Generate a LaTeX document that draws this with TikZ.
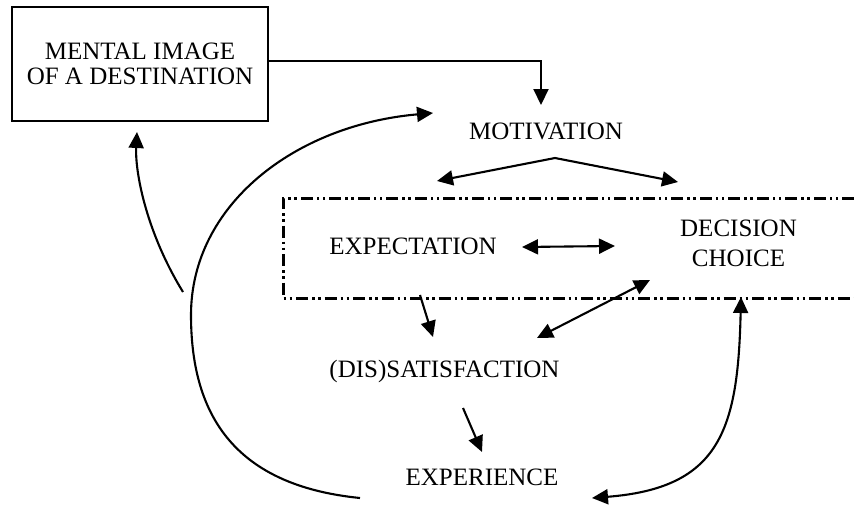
\documentclass[tikz,border=0pt]{standalone}
\usepackage{fontspec}
\setmainfont{Liberation Serif}
\usetikzlibrary{arrows.meta,positioning}
\tikzset{
    every node/.style={font=\fontsize{25}{30}\selectfont},
    concept/.style={inner sep=2pt,align=center},
    imagebox/.style={draw,line width=2pt,minimum width=256pt,minimum height=114pt,align=center,
        font=\fontsize{25}{25}\selectfont},
    flow/.style={line width=2.1pt,-{Triangle[length=16pt,width=15pt]}},
    twoway/.style={line width=2.1pt,{Triangle[length=16pt,width=15pt]}-{Triangle[length=16pt,width=15pt]}},
    frame/.style={line width=3pt,dash pattern=on 12pt off 4pt on 2.5pt off 3.5pt on 2.5pt off 4pt}
}
\begin{document}
\begin{tikzpicture}[x=1pt,y=-1pt]
    \useasboundingbox (0,0) rectangle (854,506);
    \node[imagebox] (img) at (140,64) {MENTAL IMAGE\\OF A DESTINATION};
    \node[concept] (mot) at (546,131.5) {MOTIVATION};
    \node[concept] (expect) at (413,246.5) {EXPECTATION};
    \node[concept] (dec) at (738.5,243.5) {DECISION\\CHOICE};
    \node[concept] (sat) at (444.5,371) {(DIS)SATISFACTION};
    \node[concept] (exper) at (482,477.5) {EXPERIENCE};
    \coordinate (motin) at (541,105);
    \coordinate (split) at (555,158);
    \coordinate (toexp) at (437,181);
    \coordinate (todec) at (678,182);
    \coordinate (expa) at (522,247);
    \coordinate (expb) at (615,246);
    \coordinate (exdown) at (420,295);
    \coordinate (satin) at (433,337);
    \coordinate (decout) at (650,280);
    \coordinate (satout) at (537,338);
    \coordinate (satdown) at (463,408);
    \coordinate (experin) at (482,452);
    \coordinate (loopa) at (360,498);
    \coordinate (loopb) at (433,113);
    \coordinate (imgup) at (183,292);
    \coordinate (imgin) at (137,132);
    \coordinate (backa) at (592,498);
    \coordinate (backb) at (741,297);
    \draw[frame] (854,198) -- (283,198) -- (283,298) -- (854,298);
    \draw[flow] ([yshift=3pt]img.east) -| (motin);
    \draw[twoway] (toexp) -- (split) -- (todec);
    \draw[twoway] (expa) -- (expb);
    \draw[flow] (exdown) -- (satin);
    \draw[twoway] (decout) -- (satout);
    \draw[flow] (satdown) -- (experin);
    \draw[flow] (loopa) .. controls (230,485) and (191,410) .. (191,315)
        .. controls (191,205) and (295,125) .. (loopb);
    \draw[flow] (imgup) .. controls (145,230) and (135,170) .. (imgin);
    \draw[twoway] (backa) .. controls (720,488) and (738,430) .. (backb);
\end{tikzpicture}
\end{document}
